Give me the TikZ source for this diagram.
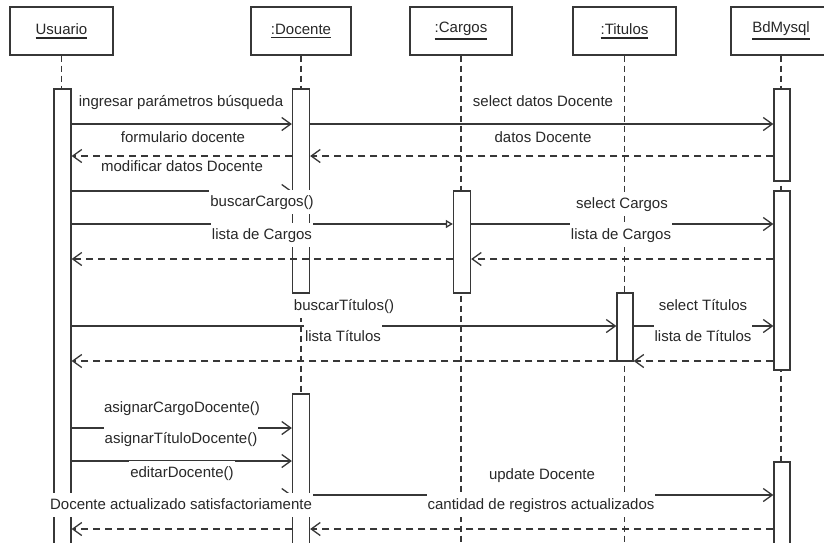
\documentclass[tikz,border=0pt]{standalone}
\usepackage{fontspec}
\setmainfont{Liberation Sans}
\usetikzlibrary{arrows.meta, calc}
\definecolor{LineGray}{RGB}{55, 55, 55}
\definecolor{TextGray}{RGB}{40, 40, 40}
\newcommand{\headname}[1]{\vtop{\hbox{#1}\kern2.5pt\hrule height 1.5pt}}
\begin{document}
\begin{tikzpicture}[
    x=1pt, y=-1pt,
    every node/.style={font=\fontsize{15}{18}\selectfont, text=TextGray},
    head/.style={draw=LineGray, line width=1.4pt, fill=white,
                 minimum width=103pt, minimum height=48pt, inner sep=0pt},
    bar/.style={draw=LineGray, line width=1.3pt, fill=white,
                minimum width=17pt, inner sep=0pt},
    lifeline/.style={draw=LineGray, line width=1.3pt, dash pattern=on 6pt off 4pt},
    call/.style={draw=LineGray, line width=1.3pt,
                 -{Straight Barb[length=9pt, width=13pt]}},
    reply/.style={call, dash pattern=on 7pt off 5pt},
    create/.style={draw=LineGray, line width=1.3pt,
                   -{Triangle[open, length=7pt, width=8pt]}},
    lbl/.style={fill=white, text height=11pt, text depth=3pt,
                inner xsep=1pt, inner ysep=5pt}
]
\useasboundingbox (0,0) rectangle (824,542);
\clip (0,0) rectangle (824,542);
\fill[white] (0,0) rectangle (824,542);

\node[head] (usr) at (61.5,31) {\headname{Usuario}};
\node[head, minimum width=100pt] (doc) at (301,31) {\headname{:Docente}};
\node[head, minimum width=102pt] (car) at (461,31) {\headname{:Cargos}};
\node[head] (tit) at (624.5,31) {\headname{:Titulos}};
\node[head, minimum width=100pt] (bd) at (781,31) {\headname{BdMysql}};

\draw[lifeline] (usr.south) -- (usr.south |- 0,560);
\draw[lifeline] (doc.south) -- (doc.south |- 0,560);
\draw[lifeline] (car.south) -- (car.south |- 0,560);
\draw[lifeline] (tit.south) -- (tit.south |- 0,560);
\draw[lifeline] (bd.south) -- (bd.south |- 0,560);

\node[bar, minimum height=471pt] (usrbar) at (62.5,324.5) {};
\node[bar, minimum height=204pt] (docbar1) at (301,191) {};
\node[bar, minimum height=166pt] (docbar2) at (301,477) {};
\node[bar, minimum height=102pt] (carbar) at (462,242) {};
\node[bar, minimum height=68pt, minimum width=16pt] (titbar) at (625,327) {};
\node[bar, minimum height=92pt, minimum width=16pt] (bdbar1) at (782,135) {};
\node[bar, minimum height=179pt, minimum width=16pt] (bdbar2) at (782,280.5) {};
\node[bar, minimum height=98pt, minimum width=16pt] (bdbar3) at (782,511) {};

\draw[call] (usrbar.east |- 0,124) -- (docbar1.west |- 0,124);
\draw[call] (docbar1.east |- 0,124) -- (bdbar1.west |- 0,124);
\draw[reply] (bdbar1.west |- 0,156) -- (docbar1.east |- 0,156);
\draw[reply] (docbar1.west |- 0,156) -- (usrbar.east |- 0,156);
\draw[call] (usrbar.east |- 0,191) -- (docbar1.west |- 0,191);
\draw[create] (usrbar.east |- 0,224) -- (carbar.west |- 0,224);
\draw[call] (carbar.east |- 0,224) -- (bdbar2.west |- 0,224);
\draw[reply] (bdbar2.west |- 0,259) -- (carbar.east |- 0,259);
\draw[reply] (carbar.west |- 0,259) -- (usrbar.east |- 0,259);
\draw[call] (usrbar.east |- 0,326) -- (titbar.west |- 0,326);
\draw[call] (titbar.east |- 0,326) -- (bdbar2.west |- 0,326);
\draw[reply] (bdbar2.west |- 0,361) -- (titbar.east |- 0,361);
\draw[reply] (titbar.west |- 0,361) -- (usrbar.east |- 0,361);
\draw[call] (usrbar.east |- 0,428) -- (docbar2.west |- 0,428);
\draw[call] (usrbar.east |- 0,461) -- (docbar2.west |- 0,461);
\draw[call] (usrbar.east |- 0,495) -- (docbar2.west |- 0,495);
\draw[call] (docbar2.east |- 0,495) -- (bdbar3.west |- 0,495);
\draw[reply] (bdbar3.west |- 0,529) -- (docbar2.east |- 0,529);
\draw[reply] (docbar2.west |- 0,529) -- (usrbar.east |- 0,529);

\node[lbl] (t1) at (181,102) {ingresar parámetros búsqueda};
\node[lbl] (t2) at (543,102) {select datos Docente};
\node[lbl, inner ysep=3pt] (t3) at (183,138) {formulario docente};
\node[lbl, inner ysep=3pt] (t4) at (543,138) {datos Docente};
\node[lbl, inner ysep=3pt] (t5) at (182,167) {modificar datos Docente};
\node[lbl] (t6) at (262,202) {buscarCargos()};
\node[lbl] (t7) at (622,204) {select Cargos};
\node[lbl] (t8) at (262,235) {lista de Cargos};
\node[lbl] (t9) at (621,235) {lista de Cargos};
\node[lbl] (t10) at (344,306) {buscarTítulos()};
\node[lbl] (t11) at (703,306) {select Títulos};
\node[lbl] (t12) at (343,337) {lista Títulos};
\node[lbl] (t13) at (703,337) {lista de Títulos};
\node[lbl] (t14) at (182,408) {asignarCargoDocente()};
\node[lbl] (t15) at (181,439) {asignarTítuloDocente()};
\node[lbl] (t16) at (182,473) {editarDocente()};
\node[lbl] (t17) at (542,475) {update Docente};
\node[lbl] (t18) at (181,505) {Docente actualizado satisfactoriamente};
\node[lbl] (t19) at (541,505) {cantidad de registros actualizados};
\end{tikzpicture}
\end{document}
